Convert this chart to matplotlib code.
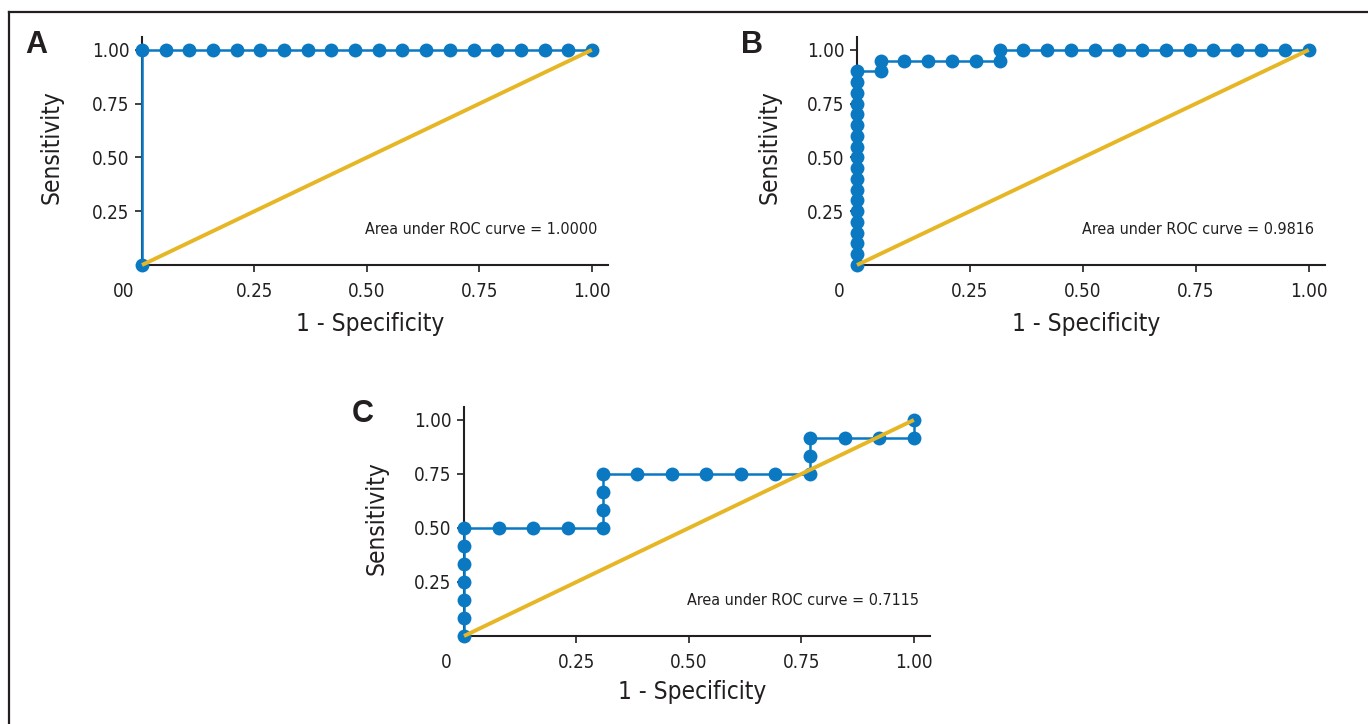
import matplotlib
matplotlib.use("Agg")
import matplotlib.pyplot as plt
from matplotlib.lines import Line2D

plt.rcParams['font.family'] = ['DejaVu Sans']
plt.rcParams['font.stretch'] = 'condensed'

# ROC points (1 - specificity, sensitivity)
fpr_a = [0, 0, 0.053, 0.105, 0.158, 0.211, 0.263, 0.316, 0.368, 0.421, 0.474,
         0.526, 0.579, 0.632, 0.684, 0.737, 0.789, 0.842, 0.895, 0.947, 1.0]
tpr_a = [0, 1.0, 1.0, 1.0, 1.0, 1.0, 1.0, 1.0, 1.0, 1.0, 1.0,
         1.0, 1.0, 1.0, 1.0, 1.0, 1.0, 1.0, 1.0, 1.0, 1.0]

fpr_b = [0, 0, 0, 0, 0, 0, 0, 0, 0, 0, 0, 0, 0, 0, 0, 0, 0, 0, 0,
         0.053, 0.053, 0.105, 0.158, 0.211, 0.263, 0.316, 0.316,
         0.368, 0.421, 0.474, 0.526, 0.579, 0.632, 0.684, 0.737,
         0.789, 0.842, 0.895, 0.947, 1.0]
tpr_b = [0, 0.05, 0.10, 0.15, 0.20, 0.25, 0.30, 0.35, 0.40, 0.45, 0.50,
         0.55, 0.60, 0.65, 0.70, 0.75, 0.80, 0.85, 0.90,
         0.90, 0.95, 0.95, 0.95, 0.95, 0.95, 0.95, 1.0,
         1.0, 1.0, 1.0, 1.0, 1.0, 1.0, 1.0, 1.0,
         1.0, 1.0, 1.0, 1.0, 1.0]

fpr_c = [0, 0, 0, 0, 0, 0, 0, 0.077, 0.154, 0.231, 0.308, 0.308, 0.308, 0.308,
         0.385, 0.462, 0.538, 0.615, 0.692, 0.769, 0.769, 0.769,
         0.846, 0.923, 1.0, 1.0]
tpr_c = [0, 0.083, 0.167, 0.25, 0.333, 0.417, 0.5, 0.5, 0.5, 0.5, 0.5, 0.583, 0.667, 0.75,
         0.75, 0.75, 0.75, 0.75, 0.75, 0.75, 0.833, 0.917,
         0.917, 0.917, 0.917, 1.0]

auc_labels = ["Area under ROC curve = 1.0000",
              "Area under ROC curve = 0.9816",
              "Area under ROC curve = 0.7115"]
panel_letters = ["A", "B", "C"]
zero_labels = ["00", "0", "0"]
ticks = [0.25, 0.50, 0.75, 1.00]
tick_labels = ["0.25", "0.50", "0.75", "1.00"]

BLUE = '#0a79c2'
GOLD = '#e7b625'
INK = '#231f20'

W, H = 1368, 724
fig = plt.figure(figsize=(W / 100, H / 100), dpi=100)

# outer frame (only left and top edges visible in the crop)
fig.add_artist(Line2D([9 / W, 9 / W], [0, 1 - 12 / H], color=INK, lw=1.6))
fig.add_artist(Line2D([9 / W, 1], [1 - 12 / H, 1 - 12 / H], color=INK, lw=1.6))


def make_axes(left, right, top, bottom):
    return fig.add_axes([left / W, 1 - bottom / H, (right - left) / W, (bottom - top) / H])


# pixel boxes: left, right, top, bottom
boxes = [(142, 608, 37, 265), (857, 1325, 37, 265), (464, 930, 407, 636)]
letter_pos = [(36, 45), (752, 45), (363, 414)]
ylabel_x = [-0.168, -0.162, -0.162]
xlabel_y = [-0.205, -0.205, -0.192]

for i, (fpr, tpr) in enumerate([(fpr_a, tpr_a), (fpr_b, tpr_b), (fpr_c, tpr_c)]):
    ax = make_axes(*boxes[i])
    ax.plot(fpr, tpr, color=BLUE, lw=1.8, marker='o', ms=10,
            markeredgewidth=0, zorder=3, clip_on=False)
    ax.plot([0, 1], [0, 1], color=GOLD, lw=2.8, zorder=4, clip_on=False,
            solid_capstyle='butt')

    ax.set_xlim(0, 1.036)
    ax.set_ylim(0, 1.06)
    for s in ['top', 'right']:
        ax.spines[s].set_visible(False)
    for s in ['left', 'bottom']:
        ax.spines[s].set_color(INK)
        ax.spines[s].set_linewidth(1.5)

    ax.set_xticks(ticks)
    ax.set_xticklabels(tick_labels)
    ax.set_yticks(ticks)
    ax.set_yticklabels(tick_labels)
    ax.tick_params(axis='x', length=5, width=1.2, color=INK, pad=7,
                   labelsize=13.5, labelcolor=INK)
    ax.tick_params(axis='y', length=5, width=1.2, color=INK, pad=4,
                   labelsize=13.5, labelcolor=INK)

    ax.annotate(zero_labels[i], xy=(-0.04, 0), xycoords=('data', 'axes fraction'),
                xytext=(0, -12), textcoords='offset points', ha='center', va='top',
                fontsize=13.5, color=INK)

    ax.set_ylabel("Sensitivity", fontsize=17.5, color=INK)
    ax.yaxis.set_label_coords(ylabel_x[i], 0.515)
    ax.set_xlabel("1 - Specificity", fontsize=17.5, color=INK)
    ax.xaxis.set_label_coords(0.49, xlabel_y[i])

    ax.text(1.012, 0.165, auc_labels[i], ha='right', va='center', fontsize=11.5,
            color=INK, transform=ax.transData)

    lx, ly = letter_pos[i]
    fig.text(lx / W, 1 - ly / H, panel_letters[i], ha='center', va='center',
             fontsize=22, fontweight='bold', color=INK, family='Liberation Sans',
             stretch='normal')

fig.savefig('out.png', dpi=100)
